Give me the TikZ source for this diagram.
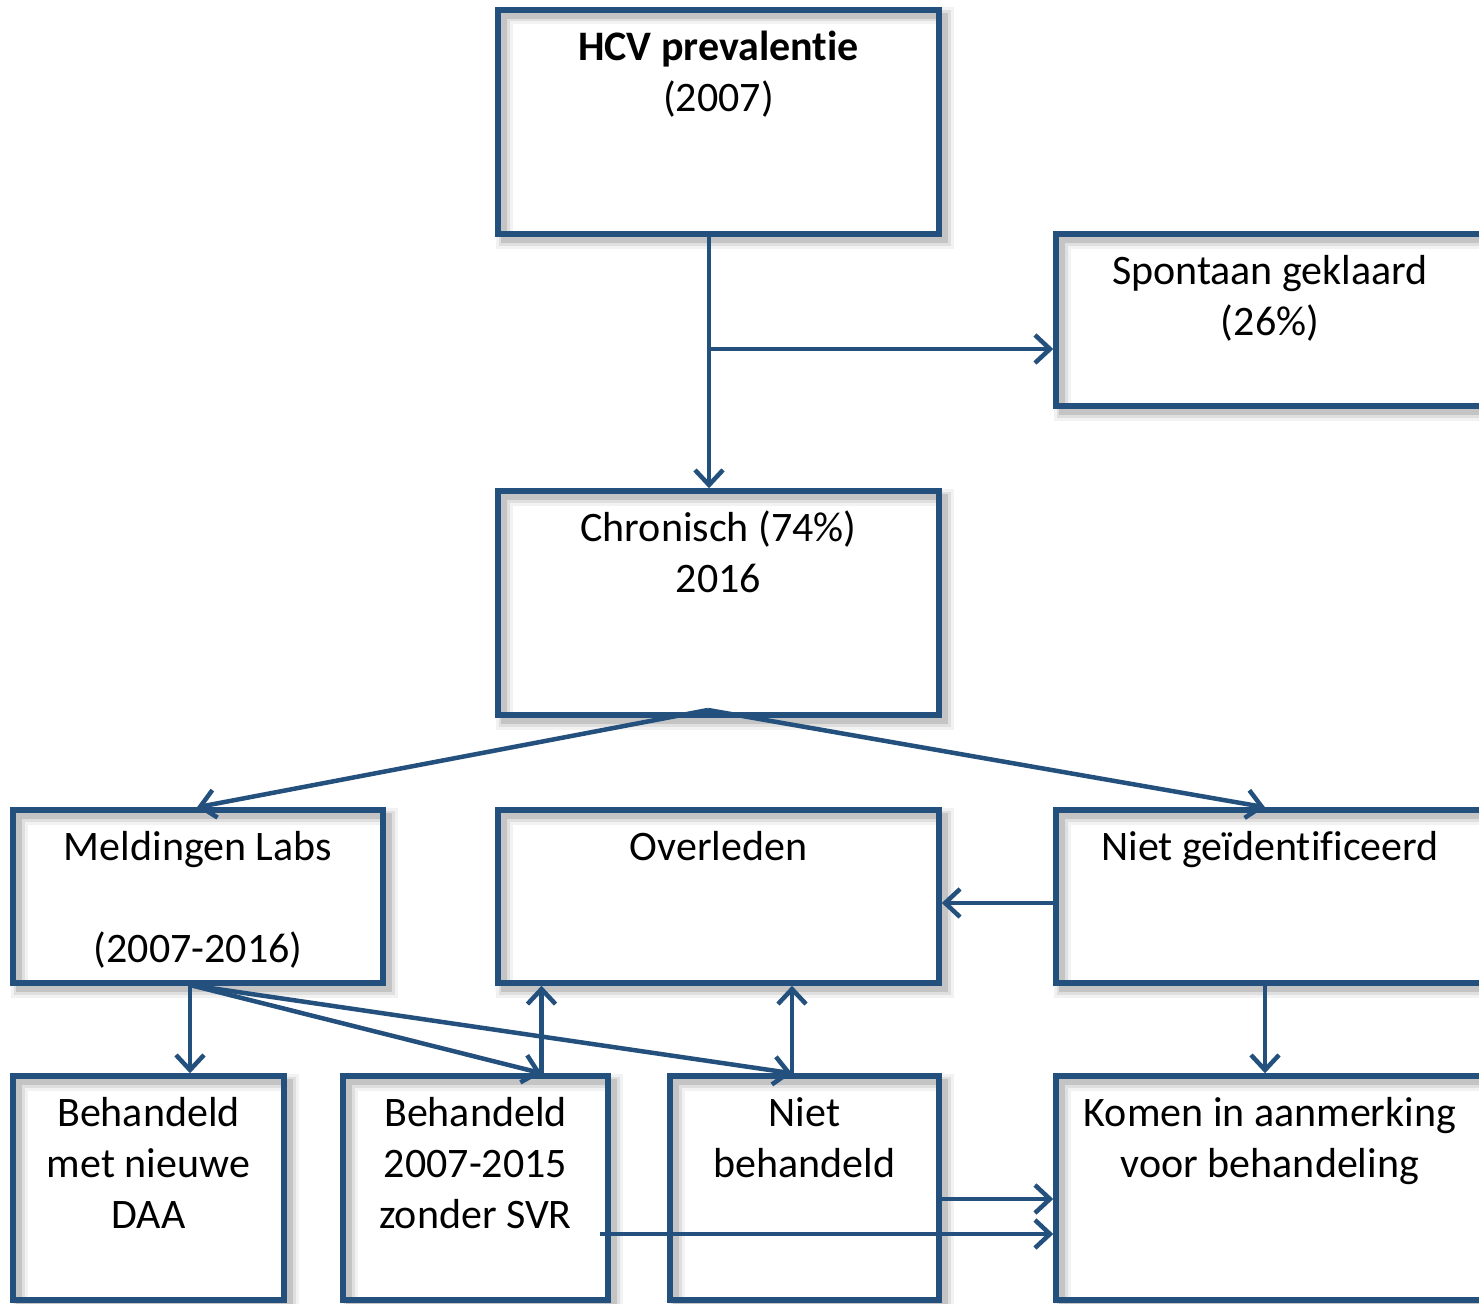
\documentclass[tikz,border=0pt]{standalone}
\usepackage{fontspec}
\setmainfont{Carlito}[Ligatures=NoCommon]
\usetikzlibrary{arrows.meta,calc}
\definecolor{flow}{RGB}{35,80,125}
% keeps two letters apart (no ligature)
\newcommand{\nolig}{\kern0pt{}}

\begin{document}
\begin{tikzpicture}[x=1pt,y=-1pt,
  box/.style={draw=flow, line width=5.5pt, inner sep=0pt,
    preaction={draw=black, draw opacity=0.05, line width=17pt,
      transform canvas={shift={(6pt,-6pt)}}},
    preaction={draw=black, draw opacity=0.08, line width=11pt,
      transform canvas={shift={(6pt,-6pt)}}},
    preaction={draw=black, draw opacity=0.12, line width=6pt,
      transform canvas={shift={(6pt,-6pt)}}}},
  % labels are placed by the baseline of their last line
  txt/.style={anchor=base, align=center, inner sep=0pt,
    font=\fontsize{42}{51}\selectfont},
  conn/.style={draw=flow, line width=4.5pt,
    -{Straight Barb[length=15pt,width=28pt]}}]

\useasboundingbox (0,0) rectangle (1479,1303);
\clip (0,0) rectangle (1479,1303);

% boxes
\node[box, minimum width=441pt, minimum height=224pt] (hcv)   at (718.5,122) {};
\node[box, minimum width=428pt, minimum height=172pt] (spon)  at (1270,320) {};
\node[box, minimum width=441pt, minimum height=224pt] (chron) at (718.5,603) {};
\node[box, minimum width=370pt, minimum height=173pt] (meld)  at (198,896.5) {};
\node[box, minimum width=441pt, minimum height=173pt] (over)  at (718.5,896.5) {};
\node[box, minimum width=428pt, minimum height=173pt] (niet)  at (1270,896.5) {};
\node[box, minimum width=271pt, minimum height=224pt] (daa)   at (148.5,1188) {};
\node[box, minimum width=265pt, minimum height=224pt] (b07)   at (475.5,1188) {};
\node[box, minimum width=269pt, minimum height=224pt] (nb)    at (804.5,1188) {};
\node[box, minimum width=428pt, minimum height=224pt] (komen) at (1270,1188) {};

% labels
\node[txt] (hcvT)   at (718.5,111) {\textbf{HCV prevalent\nolig ie}\\(2007)};
\node[txt] (sponT)  at (1270,335)  {Spontaan geklaard\\(26\%)};
\node[txt] (chronT) at (718.5,592) {Chronisch (74\%)\\2016};
\node[txt] (meldT)  at (198,962)   {Meldingen Labs\\~\\(2007-2016)};
\node[txt] (overT)  at (718.5,860) {Overleden};
\node[txt] (nietT)  at (1270,860)  {Niet geïdentif\nolig iceerd};
\node[txt] (daaT)   at (148.5,1228) {Behandeld\\met nieuwe\\DAA};
\node[txt] (b07T)   at (475.5,1228) {Behandeld\\2007-2015\\zonder SVR};
\node[txt] (nbT)    at (804.5,1177) {Niet\\behandeld};
\node[txt] (komT)   at (1270,1177) {Komen in aanmerking\\voor behandeling};

% connection points
\coordinate (split)    at (709,349);
\coordinate (chronOut) at (708,710);
\coordinate (meldOut)  at (190,985);
\coordinate (b07top)   at ([xshift=66pt]b07.north);
\coordinate (nbtop)    at ([xshift=-12.5pt]nb.north);
\coordinate (svrOut)   at (600,1234);

% connectors
\draw[conn] ([xshift=-9.5pt]hcv.south) -- ([xshift=-9.5pt]chron.north);
\draw[conn] (split) -- (spon.west |- split);
\draw[conn] (chronOut) -- ([xshift=-1pt]meld.north);
\draw[conn] (chronOut) -- ([xshift=-5pt]niet.north);
\draw[conn] ([yshift=-6.5pt]niet.west) -- ([yshift=-6.5pt]over.east);
\draw[conn] ([xshift=-5pt]niet.south) -- ([xshift=-5pt]komen.north);
\draw[conn] (meldOut) -- (daa.north -| meldOut);
\draw[conn] (meldOut) -- (b07top);
\draw[conn] (meldOut) -- (nbtop);
\draw[conn] (b07top) -- (b07top |- over.south);
\draw[conn] (nbtop) -- (nbtop |- over.south);
\draw[conn] ([yshift=-11pt]nb.east) -- ([yshift=-11pt]komen.west);
\draw[conn] (svrOut) -- (komen.west |- svrOut);
\end{tikzpicture}
\end{document}
